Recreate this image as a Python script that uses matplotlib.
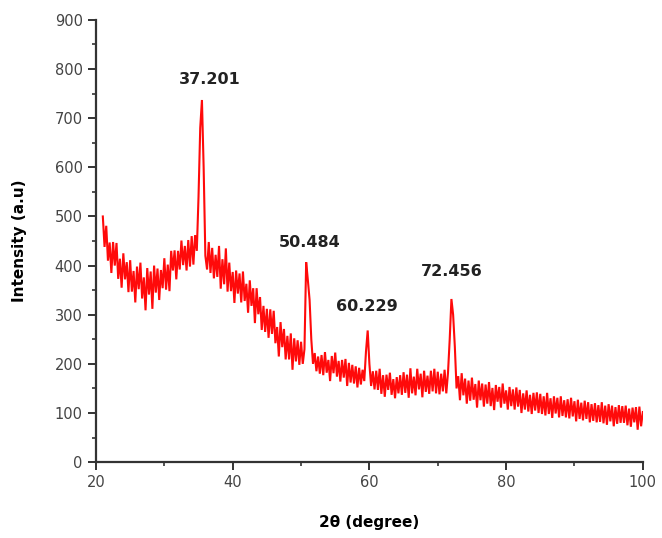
import numpy as np
import matplotlib
matplotlib.use("Agg")
from matplotlib import pyplot as plt
from matplotlib.ticker import MultipleLocator

# 2-theta grid of the scan (degrees)
two_theta = np.arange(21.0, 100.001, 0.25)

# intensity, one row per 4 degrees
intensity = [
    500, 438, 481, 410, 447, 385, 448, 400, 446, 373, 414, 355, 425, 372, 407, 346,
    411, 347, 389, 325, 398, 352, 406, 333, 376, 309, 395, 341, 388, 312, 400, 345,
    394, 330, 391, 354, 415, 351, 402, 348, 430, 390, 431, 372, 430, 392, 451, 401,
    440, 390, 452, 398, 460, 402, 462, 430, 540, 680, 737, 600, 420, 392, 448, 385,
    436, 374, 422, 377, 440, 353, 413, 362, 435, 347, 406, 348, 387, 324, 390, 343,
    384, 325, 388, 328, 363, 304, 370, 318, 354, 283, 354, 301, 336, 269, 318, 265,
    312, 253, 311, 261, 308, 242, 275, 215, 285, 234, 271, 209, 257, 209, 262, 188,
    252, 205, 248, 198, 245, 200, 230, 407, 370, 330, 250, 200, 222, 185, 215, 180,
    218, 177, 224, 182, 208, 165, 216, 181, 223, 174, 206, 164, 208, 172, 210, 155,
    202, 162, 198, 160, 195, 152, 192, 158, 188, 165, 225, 268, 200, 155, 185, 148,
    186, 147, 190, 139, 177, 133, 178, 147, 182, 137, 169, 130, 173, 140, 177, 137,
    183, 141, 178, 131, 191, 140, 174, 136, 190, 148, 180, 132, 186, 143, 176, 139,
    186, 144, 190, 140, 184, 138, 180, 144, 188, 140, 182, 250, 332, 300, 235, 150,
    175, 126, 181, 136, 170, 119, 166, 125, 172, 127, 159, 111, 166, 126, 160, 113,
    158, 119, 163, 114, 151, 106, 157, 123, 153, 111, 160, 119, 146, 107, 153, 114,
    148, 107, 152, 113, 147, 100, 140, 107, 146, 103, 137, 98, 141, 105, 142, 100,
    139, 98, 134, 95, 141, 98, 130, 90, 134, 99, 131, 91, 134, 94, 126, 91,
    128, 89, 131, 93, 124, 83, 127, 88, 121, 85, 125, 88, 122, 81, 118, 84,
    120, 81, 116, 82, 122, 79, 115, 76, 118, 83, 115, 73, 112, 78, 116, 80,
    114, 80, 115, 75, 109, 72, 111, 81, 112, 66, 113, 73, 102,
]

# peak labels: text, x, y
peak_labels = ["37.201", "50.484", "60.229", "72.456"]
peak_x = [36.6, 51.3, 59.6, 72.0]
peak_y = [778, 448, 316, 387]

assert len(intensity) == len(two_theta)

fig = plt.figure(figsize=(6.62, 5.38), dpi=100)
ax = fig.add_axes([0.145, 0.141, 0.826, 0.822])

ax.plot(two_theta, intensity, color="#ff0a0a", linewidth=1.5,
        solid_joinstyle="miter")

for txt, px, py in zip(peak_labels, peak_x, peak_y):
    ax.text(px, py, txt, ha="center", va="center", fontsize=11.5,
            fontweight="bold", color="#222222")

ax.set_xlim(20, 100)
ax.set_ylim(0, 900)
ax.xaxis.set_major_locator(MultipleLocator(20))
ax.xaxis.set_minor_locator(MultipleLocator(10))
ax.yaxis.set_major_locator(MultipleLocator(100))
ax.yaxis.set_minor_locator(MultipleLocator(50))

for side in ["top", "right"]:
    ax.spines[side].set_visible(False)
for side in ["left", "bottom"]:
    ax.spines[side].set_linewidth(1.6)
    ax.spines[side].set_color("#333333")

ax.tick_params(which="major", direction="out", length=6, width=1.4,
               color="#333333", labelsize=10.5, labelcolor="#444444")
ax.tick_params(which="minor", direction="out", length=3, width=1.2,
               color="#333333")

ax.set_xlabel("2θ (degree)", fontsize=11, fontweight="bold", labelpad=18)
ax.set_ylabel("Intensity (a.u)", fontsize=11, fontweight="bold", labelpad=20)

fig.savefig("out.png", dpi=100)
